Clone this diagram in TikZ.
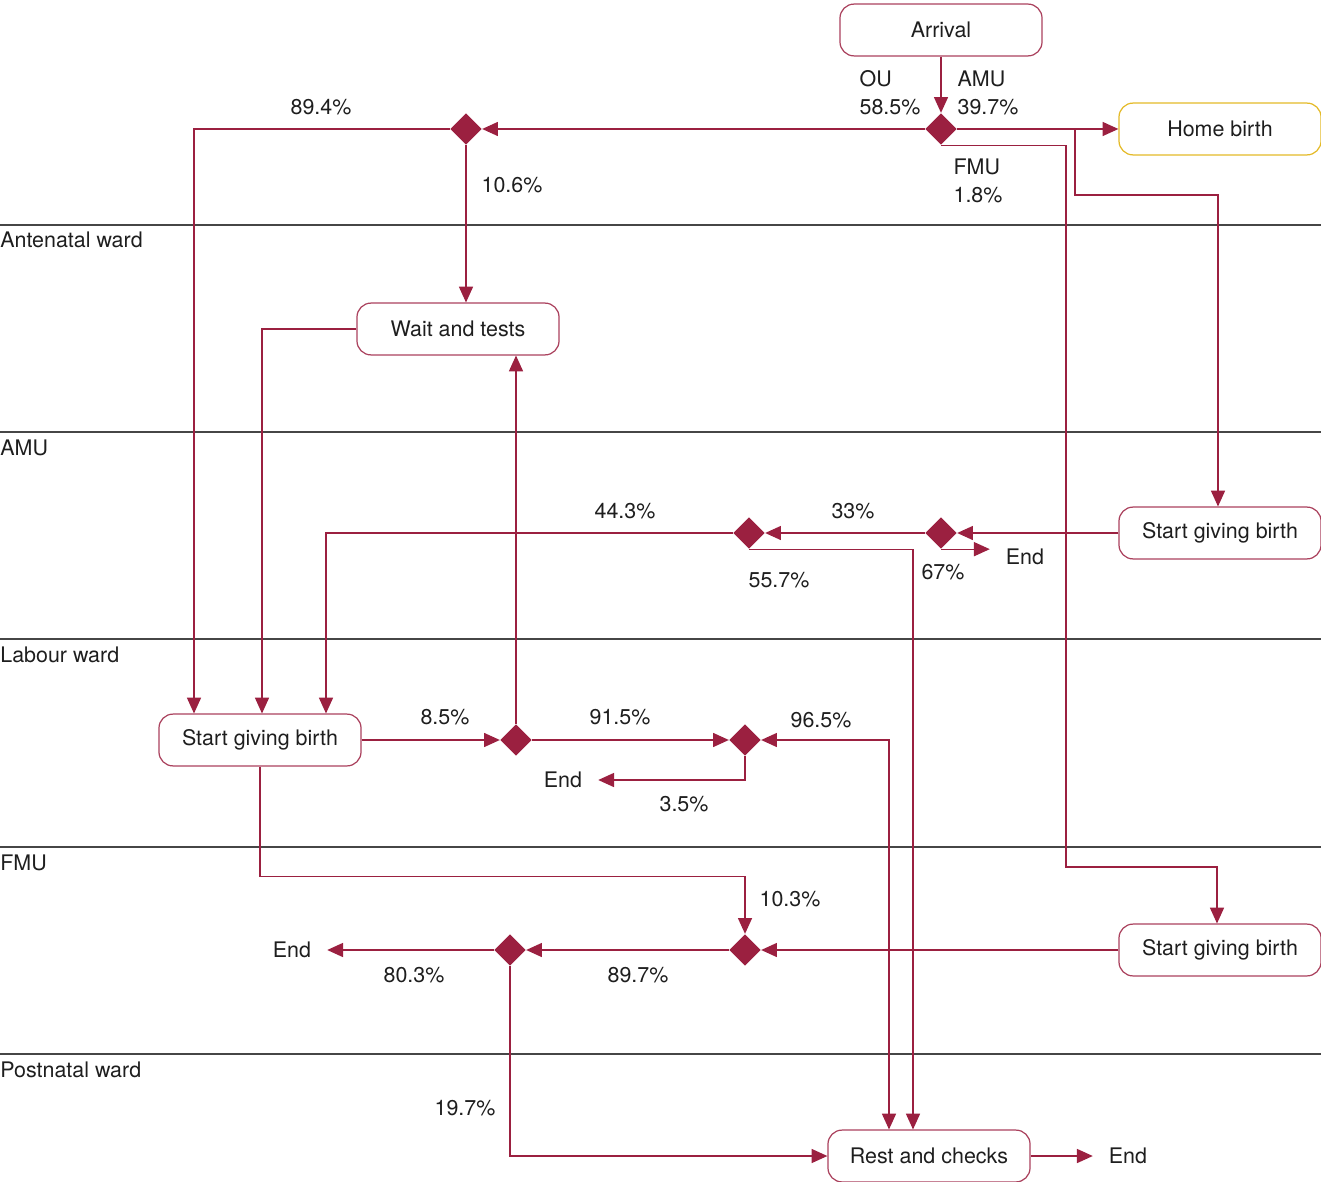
\documentclass[tikz,border=0pt]{standalone}
\usepackage{fontspec}
\setmainfont{TeX Gyre Heros}
\usetikzlibrary{shapes.geometric, arrows.meta, positioning, calc}
\definecolor{wine}{RGB}{155,32,64}
\definecolor{homeyellow}{RGB}{228,186,40}
\definecolor{lanegray}{RGB}{70,70,70}
\definecolor{txt}{RGB}{30,30,30}

\begin{document}
\begin{tikzpicture}[x=0.02cm,y=-0.02cm,every node/.style={font=\fontsize{12.2}{15.9}\selectfont,text=txt}]
\tikzstyle{activity}=[draw=wine!85,line width=0.7pt,rounded corners=8pt,minimum width=115pt,minimum height=29.5pt,inner sep=0pt]
\tikzstyle{homebox}=[activity,draw=homeyellow]
\tikzstyle{decision}=[diamond,aspect=1,fill=wine,inner sep=0pt,minimum width=18pt,minimum height=18pt]
\tikzstyle{flow}=[draw=wine,line width=0.75pt,-{Triangle[length=9pt,width=8pt]}]
\tikzstyle{twoway}=[flow,{Triangle[length=9pt,width=8pt]}-{Triangle[length=9pt,width=8pt]}]
\tikzstyle{lane}=[draw=lanegray,line width=0.6pt]
\tikzstyle{lanelabel}=[anchor=base west,inner sep=0pt]
\tikzstyle{endmark}=[inner xsep=9pt]

\useasboundingbox (0,0) rectangle (1321,1182);

% swimlanes
\foreach \y/\ward [count=\i] in {225/Antenatal ward,432/AMU,639/Labour ward,847/FMU,1054/Postnatal ward}
{
  \draw [lane] (0,\y) -- (1321,\y);
  \node (ward\i) [lanelabel] at (0,\y+23) {\ward};
}

% activities
\node (arrival) [activity] at (941,30) {Arrival};
\node (home) [homebox] at (1220,129) {Home birth};
\node (wait) [activity] at (458,329) {Wait and tests};
\node (amustart) [activity] at (1220,533) {Start giving birth};
\node (lwstart) [activity] at (260,740) {Start giving birth};
\node (fmustart) [activity] at (1220,950) {Start giving birth};
\node (rest) [activity] at (929,1156) {Rest and checks};

% decisions
\node (d1) [decision] at (941,129) {};
\node (d2) [decision] at (466,129) {};
\node (d3) [decision] at (941,533) {};
\node (d4) [decision] at (749,533) {};
\node (d5) [decision] at (516,740) {};
\node (d6) [decision] at (745,740) {};
\node (d7) [decision] at (745,950) {};
\node (d8) [decision] at (510,950) {};

% ends
\node (end1) [endmark] at (1025,557) {End};
\node (end2) [endmark] at (563,780) {End};
\node (end3) [endmark] at (292,950) {End};
\node (end4) [endmark] at (1128,1156) {End};

\coordinate (hbsplit) at (1075,129);
\coordinate (fmuturn) at (1066,867);

% connectors
\draw [flow] (arrival.south) -- (d1.north);
\draw [flow] (d1.west) -- (d2.east);
\draw [flow] (d1.east) -- (home.west);
\draw [flow] (hbsplit) -- ++(0,66) -| ($(amustart.north)+(-2,0)$);
\draw [flow] (d1.south) -| (fmuturn) -| ($(fmustart.north)+(-3,0)$);
\draw [flow] (d2.west) -| ($(lwstart.north)+(-66,0)$);
\draw [flow] (d2.south) -- (d2.south |- wait.north);
\draw [flow] (wait.west) -| ($(lwstart.north)+(2,0)$);
\draw [flow] (amustart.west) -- (d3.east);
\draw [flow] (d3.west) -- (d4.east);
\draw [flow] (d3.south) -- (d3.south -| end1.west);
\draw [flow] (d4.west) -| ($(lwstart.north)+(66,0)$);
\draw [flow] (d4.south) -| ($(rest.north)+(-16,0)$);
\draw [flow] (lwstart.east) -- (d5.west);
\draw [flow] (d5.north) -- (d5.north |- wait.south);
\draw [flow] (d5.east) -- (d6.west);
\draw [flow] (d6.south) |- (end2.east);
\draw [twoway] (d6.east) -| ($(rest.north)+(-40,0)$);
\draw [flow] (lwstart.south) -- ++(0,110) -| (d7.north);
\draw [flow] (fmustart.west) -- (d7.east);
\draw [flow] (d7.west) -- (d8.east);
\draw [flow] (d8.west) -- (end3.east);
\draw [flow] (d8.south) |- (rest.west);
\draw [flow] (rest.east) -- (end4.west);

% shares
\node (pou) [align=left] at (890,93) {OU\\58.5\%};
\node (pamu) [align=left] at (988,93) {AMU\\39.7\%};
\node (pfmu) [align=left] at (978,181) {FMU\\1.8\%};
\node (p894) at (321,107) {89.4\%};
\node (p106) at (512,185) {10.6\%};
\node (p443) at (625,511) {44.3\%};
\node (p33) at (853,511) {33\%};
\node (p557) at (779,580) {55.7\%};
\node (p67) at (943,572) {67\%};
\node (p85) at (445,717) {8.5\%};
\node (p915) at (620,717) {91.5\%};
\node (p965) at (821,720) {96.5\%};
\node (p35) at (684,804) {3.5\%};
\node (p103) at (790,899) {10.3\%};
\node (p803) at (414,975) {80.3\%};
\node (p897) at (638,975) {89.7\%};
\node (p197) at (465,1108) {19.7\%};
\end{tikzpicture}
\end{document}
